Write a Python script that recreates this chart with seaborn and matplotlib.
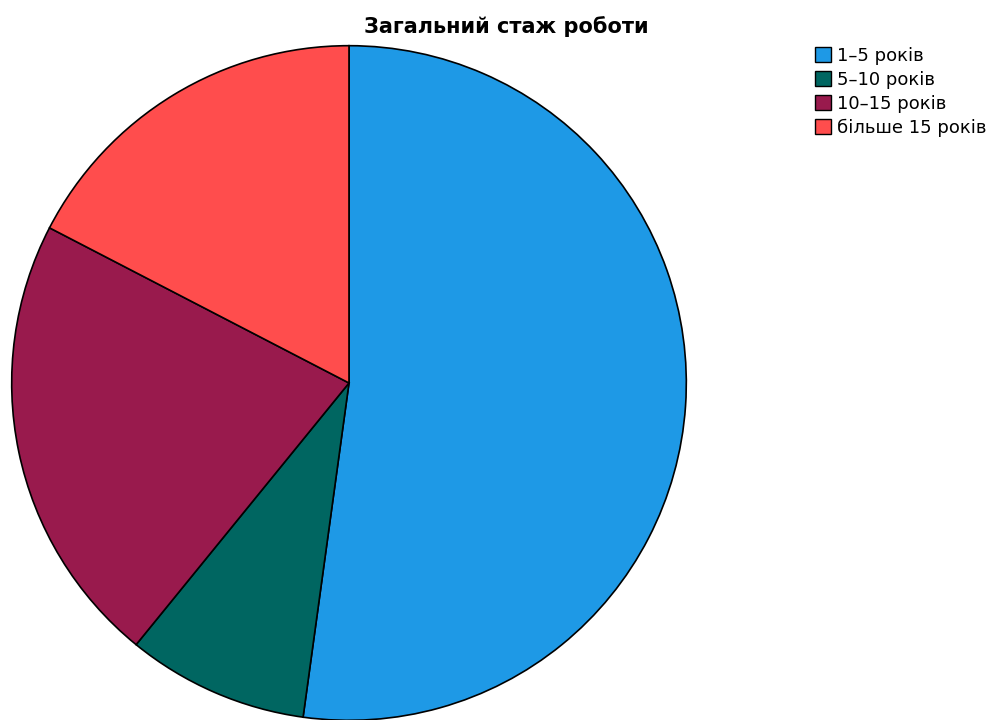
import matplotlib
matplotlib.use("Agg")
import matplotlib.pyplot as plt
import seaborn as sns
from matplotlib.patches import Patch

categories = ["1–5 років", "5–10 років", "10–15 років", "більше 15 років"]
counts = [12, 2, 5, 4]
colors_hex = ["#1E99E6", "#006661", "#991A4D", "#FF4D4D"]
title = "Загальний стаж роботи"

sns.set_theme(style="white")
plt.rcParams['font.family'] = ['DejaVu Sans']
plt.rcParams['text.color'] = 'black'
palette = sns.color_palette(colors_hex)

fig = plt.figure(figsize=(9.93, 7.2), dpi=100)
ax = fig.add_axes([10/993, -2/720, 678/993, 678/720])
ax.pie(counts, colors=palette, startangle=90, counterclock=False,
       wedgeprops=dict(edgecolor="black", linewidth=1.2))
ax.set_xlim(-1.005, 1.005)
ax.set_ylim(-1.005, 1.005)
ax.set_aspect("equal")
ax.axis("off")

fig.text(506/993, 1 - 27/720, title, ha="center", va="center",
         fontsize=15, fontweight="bold", color="black")

handles = [Patch(facecolor=c, edgecolor="black", linewidth=1) for c in palette]
leg = fig.legend(handles, categories, loc="upper left",
                 bbox_to_anchor=(815/993, 1 - 47/720), frameon=False,
                 fontsize=13, handlelength=0.9, handleheight=0.9,
                 handletextpad=0.3, labelspacing=0.32, borderpad=0, borderaxespad=0)
for t in leg.get_texts():
    t.set_color("black")

fig.savefig("out.png", dpi=100)
